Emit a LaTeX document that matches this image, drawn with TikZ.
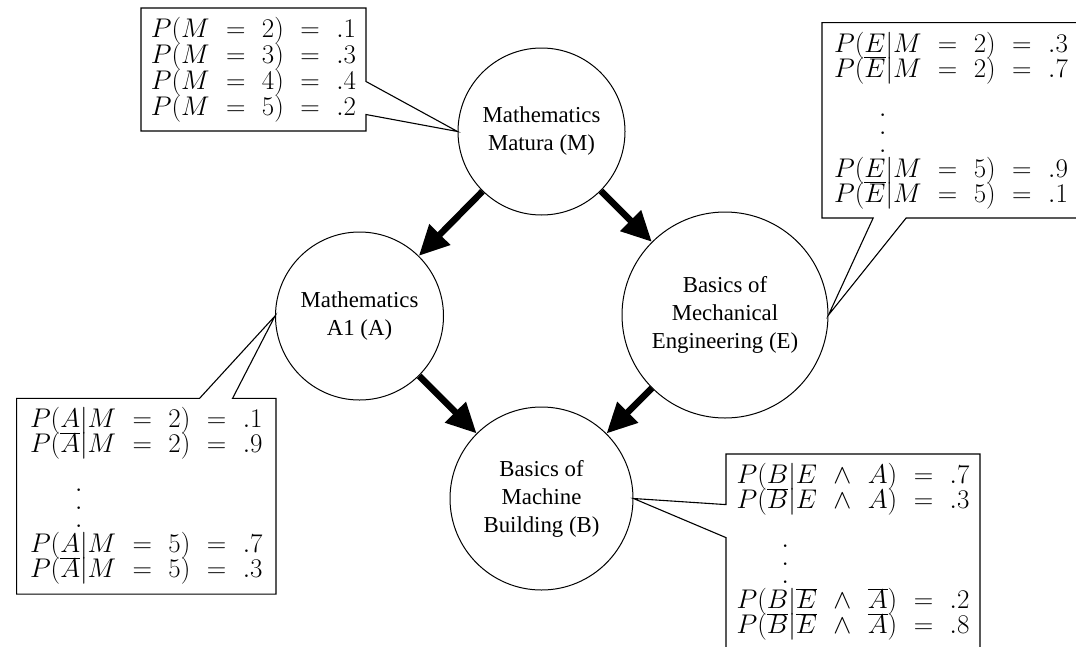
\RequirePackage{fix-cm}
\documentclass[tikz,border=0pt]{standalone}
\usepackage[no-math]{fontspec}
\setmainfont{Liberation Serif}
\usetikzlibrary{shapes.callouts,arrows.meta}
\newcommand\vdts{\hspace*{45pt}\vbox{\baselineskip=18pt\lineskiplimit=-50pt
  \hbox{$.$}\hbox{$.$}\hbox{$.$}}}
\begin{document}
\begin{tikzpicture}[x=1pt,y=-1pt,
  state/.style={circle,draw,line width=1pt,inner sep=0pt,align=center,
    font=\fontsize{22.8}{28}\selectfont},
  cpt/.style={rectangle callout,draw,line width=1.1pt,callout pointer width=33pt,
    align=left,inner sep=0pt,font=\fontsize{27}{25}\selectfont,
    execute at begin node={\thickmuskip=11mu\medmuskip=11mu\lineskiplimit=-50pt}},
  arr/.style={line width=6.5pt,-{Triangle[length=30pt,width=28pt]}}]
\useasboundingbox (0,0) rectangle (1076,646);
\node[state,minimum size=167pt] (M) at (541.5,131.5) {Mathematics\\Matura (M)};
\node[state,minimum size=168pt] (A) at (359.5,316) {Mathematics\\A1 (A)};
\node[state,minimum size=206pt] (E) at (725,315) {Basics of\\Mechanical\\Engineering (E)};
\node[state,minimum size=183pt] (B) at (541.5,498.5) {Basics of\\Machine\\Building (B)};
\draw[arr] (M) -- (A);
\draw[arr] (M) -- (E);
\draw[arr] (A) -- (B);
\draw[arr] (E) -- (B);
\node[cpt,font=\fontsize{27}{26}\selectfont,minimum width=225pt,minimum height=123pt,
  callout absolute pointer={(M.west)}] (pM) at (253.5,69.5)
  {$P(M = 2) = .1$\\$P(M = 3) = .3$\\$P(M = 4) = .4$\\$P(M = 5) = .2$};
\node[cpt,minimum width=258pt,minimum height=195.3pt,
  callout absolute pointer={(E.east)}] (pE) at (951,120.3)
  {$P(E|M = 2) = .3$\\
   $P(\overline{E}|M = 2) = .7$\\[50pt]
   \vdts\\[0pt]
   $P(E|M = 5) = .9$\\
   $P(\overline{E}|M = 5) = .1$};
\node[cpt,minimum width=259.3pt,minimum height=195.7pt,
  callout absolute pointer={(A.west)}] (pA) at (146.3,496.2)
  {$P(A|M = 2) = .1$\\
   $P(\overline{A}|M = 2) = .9$\\[50pt]
   \vdts\\[0pt]
   $P(A|M = 5) = .7$\\
   $P(\overline{A}|M = 5) = .3$};
\node[cpt,minimum width=254pt,minimum height=196pt,
  callout absolute pointer={(B.east)}] (pB) at (853,552)
  {$P(B|E \wedge A) = .7$\\
   $P(\overline{B}|E \wedge A) = .3$\\[50pt]
   \vdts\\[0pt]
   $P(B|\overline{E} \wedge \overline{A}) = .2$\\
   $P(\overline{B}|\overline{E} \wedge \overline{A}) = .8$};
\end{tikzpicture}
\end{document}
